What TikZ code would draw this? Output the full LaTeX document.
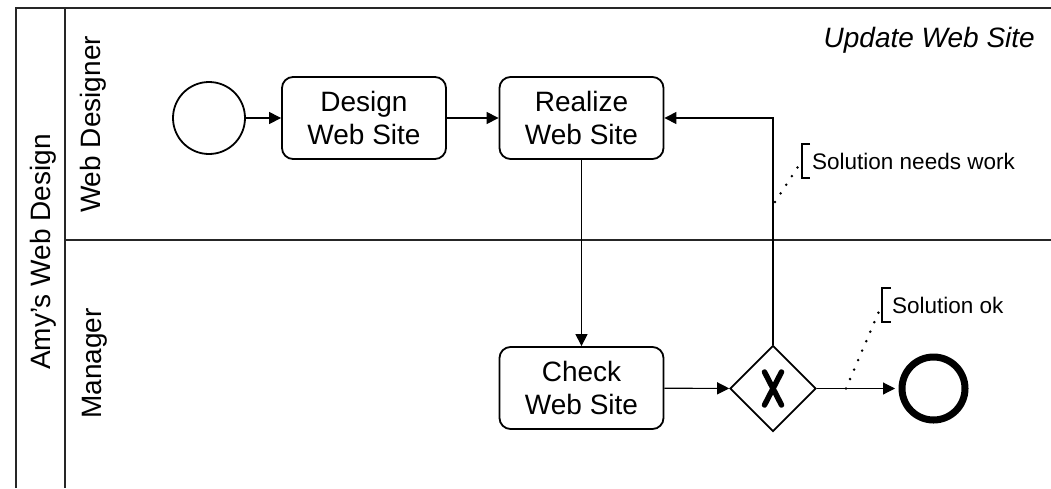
\documentclass[tikz,border=0pt]{standalone}
\usepackage{fontspec}
\setmainfont{Liberation Sans}
\usetikzlibrary{arrows.meta,shapes.geometric}
\begin{document}
\begin{tikzpicture}[x=1pt,y=-1pt,
  lane/.style={line width=2pt, draw=black!85},
  task/.style={draw, line width=1.8pt, rounded corners=11pt, minimum width=164pt, minimum height=82pt, align=center, inner sep=0pt, font=\fontsize{28}{33}\selectfont},
  flow/.style={line width=1.1pt, -{Triangle[length=12pt,width=12pt]}},
  lbl/.style={font=\fontsize{28}{33}\selectfont, rotate=90, anchor=base, inner sep=0pt},
  ann/.style={font=\fontsize{22.5}{26}\selectfont, anchor=base west, inner sep=0pt},
  assoc/.style={line width=2.8pt, line cap=round, dash pattern=on 0pt off 10.3pt},
  brk/.style={line width=1.8pt}
]
\useasboundingbox (0,0) rectangle (1051,488);
% pool and lanes
\draw[lane] (16,488) -- (16,8) -- (1051,8);
\draw[lane] (65,8) -- (65,488);
\draw[lane] (65,240) -- (1051,240);
\node[lbl] (pool) at (50,252) {Amy’s Web Design};
\node[lbl] (l1) at (100,124.5) {Web Designer};
\node[lbl] (l2) at (101,363.5) {Manager};
\node[font=\fontsize{28}{33}\selectfont\itshape, anchor=base east, inner sep=0pt] (title) at (1035,47) {Update Web Site};
% flow objects
\node[circle, draw, line width=1.8pt, minimum size=72pt, inner sep=0pt] (start) at (209,118) {};
\node[task] (design) at (364,118) {Design\\Web Site};
\node[task] (realize) at (581.5,118) {Realize\\Web Site};
\node[task] (check) at (581.5,388) {Check\\Web Site};
\node[diamond, draw, line width=1.8pt, minimum width=86pt, minimum height=86pt, inner sep=0pt] (gw) at (773,388.5) {};
\draw[line width=5.5pt, line cap=round] ([shift={(-8.5,-16.5)}]gw.center) -- ([shift={(8.5,16.5)}]gw.center)
  ([shift={(8.5,-16.5)}]gw.center) -- ([shift={(-8.5,16.5)}]gw.center);
\node[circle, draw, line width=7pt, minimum size=63pt, inner sep=0pt] (end) at (933.5,388.5) {};
% sequence flows
\draw[flow] (start) -- (design);
\draw[flow] (design) -- (realize);
\draw[flow] (realize) -- (check);
\draw[flow] (check) -- (gw);
\draw[flow] (gw.north) |- (realize.east);
\draw[flow, shorten >=3.5pt] (gw) -- (end);
% annotations
\node[ann] (n1) at (812,169.3) {Solution needs work};
\node[ann] (n2) at (892,313.3) {Solution ok};
\draw[brk] (810,144) -- (801.7,144) -- (801.7,178.3) -- (810,178.3);
\draw[brk] (890.7,288.3) -- (881.7,288.3) -- (881.7,321.7) -- (890.7,321.7);
\coordinate (b1) at (801.7,161);
\coordinate (c1) at (775,202);
\coordinate (b2) at (881.7,305);
\coordinate (c2) at (846,388.5);
\draw[assoc] (c1) -- (b1);
\draw[assoc] (c2) -- (b2);
\end{tikzpicture}
\end{document}
